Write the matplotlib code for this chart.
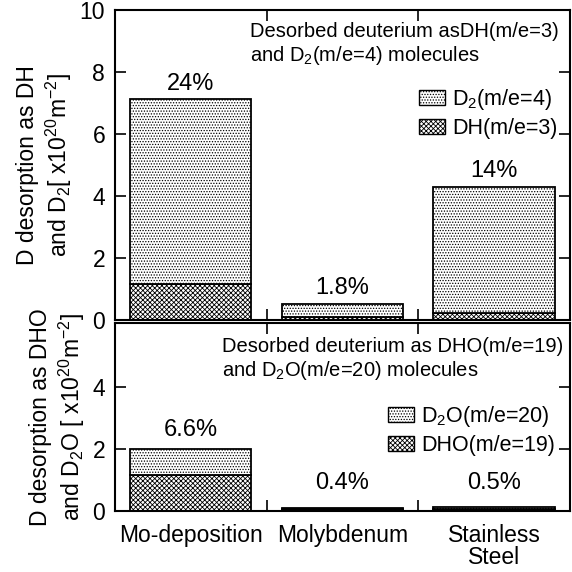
import numpy as np
import matplotlib
matplotlib.use("Agg")
import matplotlib.pyplot as plt
from matplotlib.patches import Patch

plt.rcParams['font.family'] = ['Liberation Sans', 'DejaVu Sans']
plt.rcParams['hatch.linewidth'] = 0.6
plt.rcParams['mathtext.fontset'] = 'custom'
plt.rcParams['mathtext.rm'] = 'Liberation Sans'

# Datos
categorias = ["Mo-deposition", "Molybdenum", "Stainless\nSteel"]
dh = [1.17, 0.10, 0.23]
d2 = [5.95, 0.42, 4.07]
pct_arriba = ["24%", "1.8%", "14%"]
dho = [1.17, 0.05, 0.08]
d2o = [0.83, 0.04, 0.05]
pct_abajo = ["6.6%", "0.4%", "0.5%"]

x = np.arange(len(categorias))
ancho = 0.8
h_d = '......'
h_x = 'xxxxxxx'

fig = plt.figure(figsize=(5.72, 5.72), dpi=100)
ax1 = fig.add_axes([0.201, 0.4406, 0.7955, 0.5419])
ax2 = fig.add_axes([0.201, 0.1066, 0.7955, 0.3287])

def estilo(ax, ymax, yticks):
    ax.set_xlim(-0.5, 2.5)
    ax.set_ylim(0, ymax)
    ax.set_yticks(yticks)
    ax.set_xticks([0.5, 1.5])
    ax.tick_params(direction='in', length=8, width=1.2, labelsize=16.5, pad=7,
                   top=True, right=True, bottom=True, labelbottom=False)
    for s in ax.spines.values():
        s.set_linewidth(1.5)

# Panel superior
ax1.bar(x, dh, ancho, color='white', edgecolor='black', hatch=h_x, lw=1.3)
ax1.bar(x, d2, ancho, bottom=dh, color='white', edgecolor='black', hatch=h_d, lw=1.3)
for i in range(len(x)):
    ax1.text(x[i], dh[i] + d2[i] + 0.5, pct_arriba[i], ha='center', va='center', fontsize=17)
estilo(ax1, 10, [0, 2, 4, 6, 8, 10])
ax1.text(0.39, 9.62, "Desorbed deuterium asDH(m/e=3)\nand D$_2$(m/e=4) molecules",
         fontsize=14.5, va='top', ha='left', linespacing=1.2)
h1 = [Patch(facecolor='white', edgecolor='black', hatch=h_d, label='D$_2$(m/e=4)'),
      Patch(facecolor='white', edgecolor='black', hatch=h_x, label='DH(m/e=3)')]
ax1.legend(handles=h1, loc='upper left', bbox_to_anchor=(0.668, 0.752), frameon=False,
           fontsize=15.5, handlelength=1.2, handleheight=0.7, handletextpad=0.35,
           labelspacing=0.3, borderpad=0, borderaxespad=0)
ax1.set_ylabel("D desorption as DH\nand D$_2$[ x10$^{20}$m$^{-2}$]", fontsize=16.5,
               labelpad=4, linespacing=1.2)

# Panel inferior
ax2.bar(x, dho, ancho, color='white', edgecolor='black', hatch=h_x, lw=1.3)
ax2.bar(x, d2o, ancho, bottom=dho, color='white', edgecolor='black', hatch=h_d, lw=1.3)
for i in range(len(x)):
    ax2.text(x[i], max(dho[i] + d2o[i] + 0.62, 0.9), pct_abajo[i],
             ha='center', va='center', fontsize=17)
estilo(ax2, 6.07, [0, 2, 4])
ax2.text(0.205, 5.62, "Desorbed deuterium as DHO(m/e=19)\nand D$_2$O(m/e=20) molecules",
         fontsize=14.5, va='top', ha='left', linespacing=1.2)
h2 = [Patch(facecolor='white', edgecolor='black', hatch=h_d, label='D$_2$O(m/e=20)'),
      Patch(facecolor='white', edgecolor='black', hatch=h_x, label='DHO(m/e=19)')]
ax2.legend(handles=h2, loc='upper left', bbox_to_anchor=(0.6, 0.57), frameon=False,
           fontsize=15.5, handlelength=1.2, handleheight=0.7, handletextpad=0.35,
           labelspacing=0.3, borderpad=0, borderaxespad=0)
ax2.set_ylabel("D desorption as DHO\nand D$_2$O [ x10$^{20}$m$^{-2}$]", fontsize=16.5,
               labelpad=4, linespacing=1.2)
ax2.set_xticks(x, minor=True)
ax2.set_xticklabels(categorias, minor=True, fontsize=16.5, linespacing=0.95)
ax2.tick_params(which='minor', length=0, pad=9)

fig.savefig("out.png", dpi=100)
